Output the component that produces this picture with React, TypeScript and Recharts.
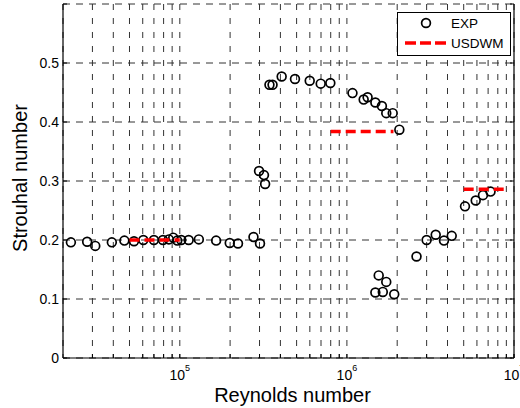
import React from 'react';
import { ScatterChart, Scatter, XAxis, YAxis, CartesianGrid } from 'recharts';

const FONT = '"Liberation Sans", Arial, Helvetica, sans-serif';

// EXP measurements (Reynolds number, Strouhal number)
const expRe = [
  2.23e4, 2.79e4, 3.12e4, 3.92e4, 4.66e4, 5.32e4, 6.05e4, 7.0e4, 7.93e4, 8.6e4,
  9.14e4, 9.66e4, 1.02e5, 1.13e5, 1.3e5, 1.65e5, 1.99e5, 2.23e5, 2.76e5, 2.98e5,
  3.02e5, 3.19e5, 3.24e5, 3.44e5, 3.59e5, 4.07e5, 4.89e5, 5.99e5, 6.97e5, 7.96e5,
  1.08e6, 1.26e6, 1.33e6, 1.48e6, 1.62e6, 1.72e6, 1.88e6, 2.06e6, 1.48e6, 1.55e6,
  1.64e6, 1.72e6, 1.92e6, 2.61e6, 3.0e6, 3.4e6, 3.81e6, 4.24e6, 5.09e6, 5.9e6,
  6.52e6, 7.24e6,
];
const expSt = [
  0.196, 0.197, 0.19, 0.196, 0.199, 0.198, 0.2, 0.2, 0.2, 0.201,
  0.204, 0.199, 0.2, 0.2, 0.201, 0.199, 0.195, 0.194, 0.205, 0.317,
  0.194, 0.31, 0.295, 0.463, 0.463, 0.477, 0.473, 0.47, 0.465, 0.466,
  0.449, 0.438, 0.442, 0.433, 0.427, 0.415, 0.415, 0.387, 0.111, 0.14,
  0.112, 0.129, 0.108, 0.172, 0.2, 0.209, 0.199, 0.207, 0.257, 0.267,
  0.276, 0.282,
];

// USDWM predictions (three segments)
const usdLowRe = [5e4, 1e5];
const usdLowSt = [0.2, 0.2];
const usdMidRe = [8e5, 1.9e6];
const usdMidSt = [0.384, 0.384];
const usdHighRe = [5e6, 9e6];
const usdHighSt = [0.286, 0.286];

// Axis ticks
const xTicks = [
  3e4, 4e4, 5e4, 6e4, 7e4, 8e4, 9e4, 1e5,
  2e5, 3e5, 4e5, 5e5, 6e5, 7e5, 8e5, 9e5, 1e6,
  2e6, 3e6, 4e6, 5e6, 6e6, 7e6, 8e6, 9e6, 1e7,
];
const xMajor = [1e5, 1e6, 1e7];
const xMajorExp = ['5', '6', '7'];
const yTicks = [0, 0.1, 0.2, 0.3, 0.4, 0.5, 0.6];
const yTickLabels = ['0', '0.1', '0.2', '0.3', '0.4', '0.5', ''];

const zip = (xs: number[], ys: number[]) => xs.map((re, i) => ({ re, st: ys[i] }));
const expData = zip(expRe, expSt);
const lowData = zip(usdLowRe, usdLowSt);
const midData = zip(usdMidRe, usdMidSt);
const highData = zip(usdHighRe, usdHighSt);

const TICK_LEN = 4;

const BottomTick = (props: any) => {
  const { x, y, payload } = props;
  const idx = xMajor.indexOf(payload.value);
  return (
    <g>
      <line x1={x} y1={y} x2={x} y2={y - TICK_LEN} stroke="#000" strokeWidth={1} />
      {idx >= 0 && (
        <text x={x} y={y + 22} textAnchor="middle" fontFamily={FONT} fontSize={14} fill="#000">
          <tspan>10</tspan>
          <tspan dy={-9} fontSize={9}>{xMajorExp[idx]}</tspan>
        </text>
      )}
    </g>
  );
};

const TopTick = (props: any) => {
  const { x, y } = props;
  return <line x1={x} y1={y} x2={x} y2={y + TICK_LEN} stroke="#000" strokeWidth={1} />;
};

const LeftTick = (props: any) => {
  const { x, y, payload } = props;
  const idx = yTicks.indexOf(payload.value);
  return (
    <g>
      <line x1={x} y1={y} x2={x + TICK_LEN} y2={y} stroke="#000" strokeWidth={1} />
      <text x={x - 4} y={y + 5} textAnchor="end" fontFamily={FONT} fontSize={14} fill="#000">
        {idx >= 0 ? yTickLabels[idx] : ''}
      </text>
    </g>
  );
};

const RightTick = (props: any) => {
  const { x, y } = props;
  return <line x1={x} y1={y} x2={x - TICK_LEN} y2={y} stroke="#000" strokeWidth={1} />;
};

const OpenCircle = (props: any) => {
  const { cx, cy } = props;
  if (cx == null || cy == null) return <g />;
  return <circle cx={cx} cy={cy} r={4.4} fill="none" stroke="#000" strokeWidth={1.7} />;
};

const NoShape = () => <g />;

const redLine = { stroke: '#ff0000', strokeWidth: 3.4, strokeDasharray: '10 5' };
const axisLine = { stroke: '#000', strokeWidth: 1.2 };

export default function App() {
  return (
    <div style={{ position: 'absolute', left: 0, top: 0, width: 520, height: 408, background: '#fff' }}>
      <ScatterChart width={520} height={408} margin={{ top: 4, right: 0, bottom: 0, left: 0 }}>
        <CartesianGrid vertical={false} stroke="#333" strokeDasharray="7 6" />
        <CartesianGrid horizontal={false} stroke="#333" strokeDasharray="6 8" />
        <XAxis
          dataKey="re"
          type="number"
          scale="log"
          domain={[2e4, 1e7]}
          allowDataOverflow
          ticks={xTicks}
          interval={0}
          height={50}
          tickSize={0}
          tickMargin={0}
          tickLine={false}
          axisLine={axisLine}
          tick={<BottomTick />}
          label={{
            content: (p: any) => {
              const vb = p.viewBox;
              return (
                <text x={vb.x + vb.width / 2 + 4} y={vb.y + 44} textAnchor="middle" fontFamily={FONT} fontSize={20} fill="#000">
                  Reynolds number
                </text>
              );
            },
          }}
        />
        <XAxis
          xAxisId="top"
          orientation="top"
          dataKey="re"
          type="number"
          scale="log"
          domain={[2e4, 1e7]}
          allowDataOverflow
          ticks={xTicks}
          interval={0}
          height={0}
          tickSize={0}
          tickMargin={0}
          tickLine={false}
          axisLine={axisLine}
          tick={<TopTick />}
        />
        <YAxis
          dataKey="st"
          type="number"
          domain={[0, 0.6]}
          allowDataOverflow
          ticks={yTicks}
          interval={0}
          width={63}
          tickSize={0}
          tickMargin={0}
          tickLine={false}
          axisLine={axisLine}
          tick={<LeftTick />}
          label={{
            content: (p: any) => {
              const vb = p.viewBox;
              const cx = 20;
              const cy = vb.y + vb.height / 2 - 3;
              return (
                <text x={cx} y={cy} transform={`rotate(-90 ${cx} ${cy})`} textAnchor="middle" dominantBaseline="central" fontFamily={FONT} fontSize={20} fill="#000">
                  Strouhal number
                </text>
              );
            },
          }}
        />
        <YAxis
          yAxisId="right"
          orientation="right"
          dataKey="st"
          type="number"
          domain={[0, 0.6]}
          allowDataOverflow
          ticks={yTicks}
          interval={0}
          width={6}
          tickSize={0}
          tickMargin={0}
          tickLine={false}
          axisLine={axisLine}
          tick={<RightTick />}
        />
        <Scatter name="EXP" data={expData} shape={<OpenCircle />} isAnimationActive={false} />
        <Scatter name="USDWM" data={lowData} line={redLine} shape={<NoShape />} isAnimationActive={false} />
        <Scatter name="USDWM2" data={midData} line={redLine} shape={<NoShape />} isAnimationActive={false} />
        <Scatter name="USDWM3" data={highData} line={redLine} shape={<NoShape />} isAnimationActive={false} />
      </ScatterChart>
      <div style={{ position: 'absolute', left: 397, top: 12, width: 114, height: 44 }}>
        <svg width={114} height={44}>
          <rect x={0.5} y={0.5} width={113} height={43} fill="#fff" stroke="#000" strokeWidth={1} />
          <circle cx={29} cy={11} r={4.4} fill="none" stroke="#000" strokeWidth={1.7} />
          <text x={54} y={16} fontFamily={FONT} fontSize={13.5} fill="#000">EXP</text>
          <line x1={8} y1={31} x2={49} y2={31} stroke="#ff0000" strokeWidth={3.4} strokeDasharray="11 4" />
          <text x={54} y={36} fontFamily={FONT} fontSize={13.5} fill="#000">USDWM</text>
        </svg>
      </div>
    </div>
  );
}
